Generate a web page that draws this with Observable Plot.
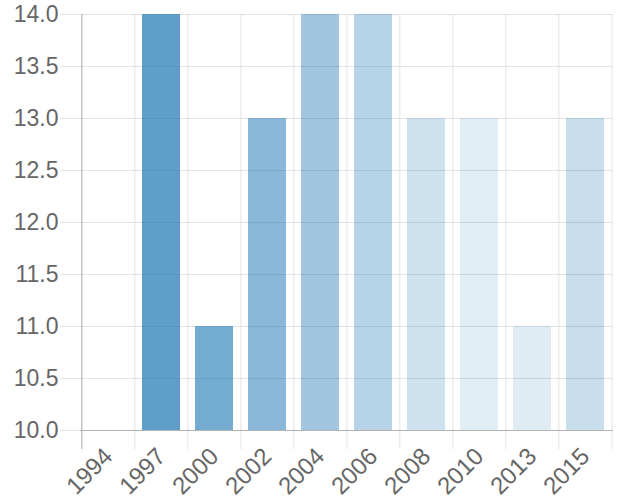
<!DOCTYPE html>
<html>
<head>
<meta charset="utf-8">
<script src="https://cdn.jsdelivr.net/npm/d3@7"></script>
<script src="https://cdn.jsdelivr.net/npm/@observablehq/plot@0.6"></script>
<style>
  html, body { margin: 0; padding: 0; background: #fff; }
  #chart { width: 620px; height: 500px; }
</style>
</head>
<body>
<div id="chart"></div>
<script>
const years = ["1994", "1997", "2000", "2002", "2004", "2006", "2008", "2010", "2013", "2015"];
const values = [10, 14, 11, 13, 14, 14, 13, 13, 11, 13];
const yTickValues = [10, 10.5, 11, 11.5, 12, 12.5, 13, 13.5, 14];
const barColors = [
  "rgba(31,119,180,0.80)", "rgba(31,119,180,0.71)", "rgba(31,119,180,0.62)",
  "rgba(31,119,180,0.52)", "rgba(31,119,180,0.415)", "rgba(31,119,180,0.32)",
  "rgba(31,119,180,0.22)", "rgba(31,119,180,0.135)", "rgba(31,119,180,0.14)",
  "rgba(31,119,180,0.24)"
];

const data = years.map((year, i) => ({year, value: values[i]}));

const W = 620, H = 500;
const mL = 80, mR = 7, mT = 14, mB = 70;
const step = (W - mL - mR) / years.length;
const yMin = 10, yMax = 14;
const gridColor = "#e3e3e3";
const axisColor = "#b3b3b3";

const chart = Plot.plot({
  width: W,
  height: H,
  marginLeft: mL,
  marginRight: mR,
  marginTop: mT,
  marginBottom: mB,
  style: {fontFamily: "'Liberation Sans', Arial, sans-serif", fontSize: "23px", color: "#666", background: "#fff"},
  x: {type: "band", domain: years, paddingInner: 0.28, paddingOuter: 0.14, tickSize: 0, tickPadding: 22, tickRotate: -45, label: null},
  y: {domain: [yMin, yMax], ticks: yTickValues, tickFormat: d3.format(".1f"), tickSize: 0, tickPadding: 22, label: null},
  color: {type: "ordinal", domain: years, range: barColors},
  marks: [
    // horizontal grid (extends left as tick marks)
    Plot.ruleY(yTickValues, {y: d => d, stroke: gridColor, strokeWidth: 1, insetLeft: -20}),
    // vertical grid at category boundaries (extends below as tick marks)
    Plot.ruleX(years, {x: d => d, dx: -step / 2, y1: yMax, y2: yMin, stroke: gridColor, strokeWidth: 1, insetBottom: -19}),
    Plot.ruleX(years.slice(-1), {x: d => d, dx: step / 2, y1: yMax, y2: yMin, stroke: gridColor, strokeWidth: 1, insetBottom: -19}),
    // bars
    Plot.barY(data, {x: "year", y1: yMin, y2: "value", fill: "year"}),
    // axis lines
    Plot.ruleY([yMin], {stroke: axisColor, strokeWidth: 1}),
    Plot.ruleX(years.slice(0, 1), {x: d => d, dx: -step / 2, y1: yMax, y2: yMin, stroke: axisColor, strokeWidth: 1, insetBottom: -19})
  ]
});

// larger rotated category labels
d3.select(chart).selectAll('[aria-label="x-axis tick label"] text, g[aria-label="x-axis"] text').attr("font-size", "24px").style("font-size", "24px");

document.getElementById("chart").appendChild(chart);
</script>
</body>
</html>
